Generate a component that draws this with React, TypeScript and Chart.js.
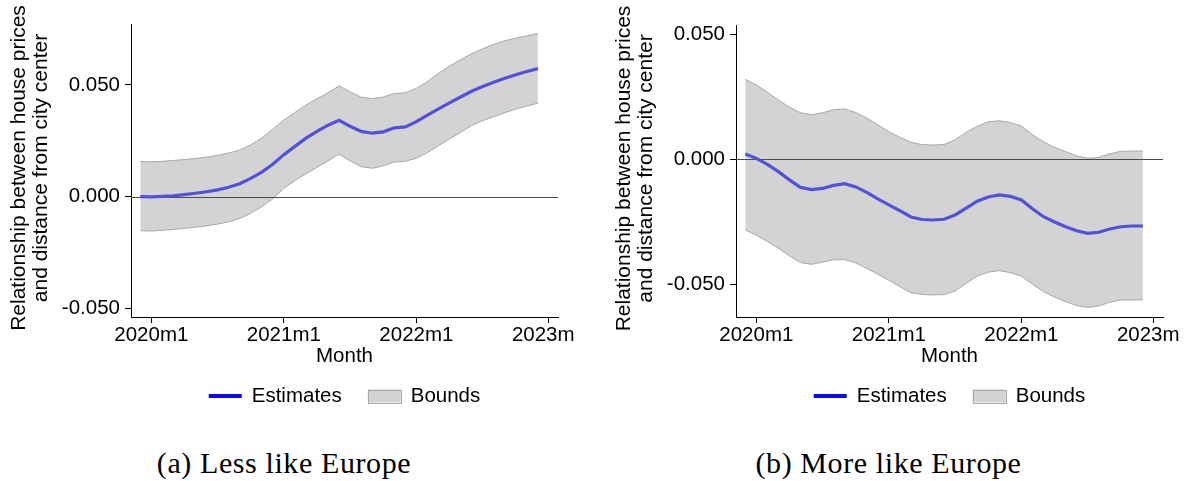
import React, { useEffect, useRef } from 'react';
import { Chart, registerables } from 'chart.js';

Chart.register(...registerables);

// ---------- data ----------
const months = [
  '2019m12',
  '2020m1', '2020m2', '2020m3', '2020m4', '2020m5', '2020m6', '2020m7', '2020m8', '2020m9', '2020m10', '2020m11', '2020m12',
  '2021m1', '2021m2', '2021m3', '2021m4', '2021m5', '2021m6', '2021m7', '2021m8', '2021m9', '2021m10', '2021m11', '2021m12',
  '2022m1', '2022m2', '2022m3', '2022m4', '2022m5', '2022m6', '2022m7', '2022m8', '2022m9', '2022m10', '2022m11', '2022m12',
];

const xTickLabels = ['2020m1', '2021m1', '2022m1', '2023m1'];
const yTickValues = [-0.05, 0, 0.05];
const yTitleLines = ['Relationship between house prices', 'and distance from city center'];
const xTitle = 'Month';
const legendLabels = ['Estimates', 'Bounds'];
const captions = ['(a) Less like Europe', '(b) More like Europe'];

const lessEstimate = [
  0.0000, -0.0001, 0.0001, 0.0004, 0.0009, 0.0015, 0.0022, 0.0030, 0.0042, 0.0058, 0.0082, 0.0110, 0.0145,
  0.0188, 0.0225, 0.0262, 0.0292, 0.0320, 0.0342, 0.0315, 0.0292, 0.0284, 0.0290, 0.0308, 0.0312,
  0.0336, 0.0365, 0.0393, 0.0420, 0.0446, 0.0472, 0.0493, 0.0512, 0.0530, 0.0546, 0.0560, 0.0573,
];
const lessUpper = [
  0.0157, 0.0156, 0.0158, 0.0162, 0.0166, 0.0171, 0.0177, 0.0185, 0.0195, 0.0209, 0.0232, 0.0262, 0.0302,
  0.0343, 0.0377, 0.0410, 0.0438, 0.0465, 0.0496, 0.0470, 0.0445, 0.0439, 0.0446, 0.0462, 0.0465,
  0.0485, 0.0515, 0.0552, 0.0585, 0.0613, 0.0640, 0.0662, 0.0682, 0.0698, 0.0710, 0.0720, 0.0730,
];
const lessLower = [
  -0.0153, -0.0154, -0.0151, -0.0147, -0.0142, -0.0137, -0.0131, -0.0123, -0.0113, -0.0098, -0.0075, -0.0045, -0.0010,
  0.0037, 0.0072, 0.0102, 0.0131, 0.0160, 0.0190, 0.0160, 0.0134, 0.0127, 0.0138, 0.0155, 0.0158,
  0.0172, 0.0197, 0.0228, 0.0258, 0.0288, 0.0318, 0.0340, 0.0358, 0.0376, 0.0392, 0.0406, 0.0418,
];

const moreEstimate = [
  0.0021, 0.0004, -0.0020, -0.0049, -0.0082, -0.0112, -0.0121, -0.0116, -0.0104, -0.0097, -0.0110, -0.0132, -0.0158,
  -0.0182, -0.0205, -0.0230, -0.0240, -0.0242, -0.0239, -0.0222, -0.0195, -0.0167, -0.0150, -0.0142, -0.0148,
  -0.0162, -0.0197, -0.0229, -0.0250, -0.0269, -0.0285, -0.0295, -0.0291, -0.0278, -0.0269, -0.0266, -0.0266,
];
const moreUpper = [
  0.0319, 0.0297, 0.0268, 0.0237, 0.0208, 0.0186, 0.0178, 0.0186, 0.0198, 0.0201, 0.0187, 0.0165, 0.0138,
  0.0110, 0.0088, 0.0068, 0.0059, 0.0057, 0.0059, 0.0078, 0.0108, 0.0132, 0.0150, 0.0154, 0.0147,
  0.0133, 0.0098, 0.0070, 0.0048, 0.0031, 0.0014, 0.0004, 0.0008, 0.0022, 0.0032, 0.0033, 0.0033,
];
const moreLower = [
  -0.0282, -0.0302, -0.0328, -0.0355, -0.0385, -0.0412, -0.0419, -0.0410, -0.0401, -0.0400, -0.0413, -0.0435, -0.0458,
  -0.0482, -0.0508, -0.0532, -0.0539, -0.0541, -0.0540, -0.0525, -0.0495, -0.0466, -0.0450, -0.0444, -0.0452,
  -0.0466, -0.0498, -0.0528, -0.0550, -0.0568, -0.0583, -0.0591, -0.0585, -0.0570, -0.0561, -0.0561, -0.0561,
];

// ---------- helpers ----------
const monthIndex = (label: string) => {
  const [y, m] = label.split('m').map(Number);
  return (y - 2020) * 12 + (m - 1);
};
const xTickValues = xTickLabels.map(monthIndex);

const FONT = "'Liberation Sans', Arial, Helvetica, sans-serif";
const EST_COLOR = '#5151d9';
const LEGEND_LINE = '#0a0aff';
const BAND_FILL = '#d3d3d3';
const BAND_EDGE = '#a8a8a8';

const decorPlugin = {
  id: 'decor',
  afterDatasetDraw(chart: any, args: any) {
    if (args.index !== 1) return;
    const { ctx, chartArea } = chart;
    const y = Math.round(chart.scales.y.getPixelForValue(0)) + 0.5;
    ctx.save();
    ctx.strokeStyle = '#4a4a4a';
    ctx.lineWidth = 1;
    ctx.beginPath();
    ctx.moveTo(chartArea.left, y);
    ctx.lineTo(chartArea.right, y);
    ctx.stroke();
    ctx.restore();
  },
  afterDraw(chart: any) {
    const { ctx, chartArea } = chart;
    ctx.save();
    // y-axis title (two lines, rotated)
    ctx.fillStyle = '#000';
    ctx.font = `21px ${FONT}`;
    ctx.textAlign = 'center';
    ctx.textBaseline = 'middle';
    const cy = (chartArea.top + chartArea.bottom) / 2 - 2.5;
    ctx.translate(19.5, cy);
    ctx.rotate(-Math.PI / 2);
    yTitleLines.forEach((line, i) => ctx.fillText(line, 0, i * 21.5));
    ctx.restore();

    // legend
    ctx.save();
    ctx.font = `20.5px ${FONT}`;
    ctx.textBaseline = 'middle';
    ctx.textAlign = 'left';
    const w1 = ctx.measureText(legendLabels[0]).width;
    const w2 = ctx.measureText(legendLabels[1]).width;
    const sw = 33, gap = 10, itemGap = 26;
    const total = sw + gap + w1 + itemGap + sw + gap + w2;
    const cx = (chartArea.left + chartArea.right) / 2;
    const ly = 396;
    let x = cx - total / 2;
    ctx.strokeStyle = LEGEND_LINE;
    ctx.lineWidth = 4;
    ctx.beginPath();
    ctx.moveTo(x, ly);
    ctx.lineTo(x + sw, ly);
    ctx.stroke();
    ctx.fillStyle = '#000';
    ctx.fillText(legendLabels[0], x + sw + gap, ly);
    x += sw + gap + w1 + itemGap;
    ctx.fillStyle = BAND_FILL;
    ctx.fillRect(x, ly - 6.5, sw, 13);
    ctx.strokeStyle = BAND_EDGE;
    ctx.lineWidth = 1;
    ctx.strokeRect(Math.round(x) + 0.5, Math.round(ly - 6.5) + 0.5, sw, 13);
    ctx.fillStyle = '#000';
    ctx.fillText(legendLabels[1], x + sw + gap, ly);
    ctx.restore();
  },
};

type PanelProps = {
  estimate: number[];
  upper: number[];
  lower: number[];
  yMin: number;
  yMax: number;
  top: number;
};

function Panel({ estimate, upper, lower, yMin, yMax, top }: PanelProps) {
  const ref = useRef<HTMLCanvasElement>(null);
  useEffect(() => {
    if (!ref.current) return;
    const toPts = (vals: number[]) => months.map((m, i) => ({ x: monthIndex(m), y: vals[i] }));
    const chart = new Chart(ref.current, {
      type: 'line',
      data: {
        datasets: [
          {
            label: legendLabels[0],
            data: toPts(estimate),
            borderColor: EST_COLOR,
            borderWidth: 3.2,
            pointRadius: 0,
            fill: false,
            tension: 0,
          },
          {
            label: legendLabels[1],
            data: toPts(upper),
            borderColor: BAND_EDGE,
            borderWidth: 1,
            backgroundColor: BAND_FILL,
            pointRadius: 0,
            fill: '+1',
            tension: 0,
          },
          {
            label: 'lower',
            data: toPts(lower),
            borderColor: BAND_EDGE,
            borderWidth: 1,
            pointRadius: 0,
            fill: false,
            tension: 0,
          },
        ],
      },
      options: {
        responsive: false,
        animation: false,
        events: [],
        layout: { padding: { left: 0, top, right: 40, bottom: 51.7 } },
        plugins: {
          legend: { display: false },
          tooltip: { enabled: false },
          filler: { drawTime: 'beforeDatasetsDraw' },
        },
        scales: {
          x: {
            type: 'linear',
            min: -1.84,
            max: 36.82,
            afterBuildTicks: (s: any) => {
              s.ticks = xTickValues.map((v) => ({ value: v }));
            },
            afterFit: (s: any) => {
              s.height = 51.3;
            },
            ticks: {
              autoSkip: false,
              maxRotation: 0,
              padding: 0,
              color: '#000',
              font: { family: FONT, size: 20.5 },
              callback: (v: any) => xTickLabels[xTickValues.indexOf(Number(v))] ?? '',
            },
            grid: { display: true, drawOnChartArea: false, drawTicks: true, tickLength: 6, color: '#000', tickColor: '#000' },
            border: { display: true, color: '#000', width: 1 },
            title: { display: true, text: xTitle, color: '#000', font: { family: FONT, size: 20.5, lineHeight: 1.2 }, padding: 0 },
          },
          y: {
            type: 'linear',
            min: yMin,
            max: yMax,
            afterBuildTicks: (s: any) => {
              s.ticks = yTickValues.map((v) => ({ value: v }));
            },
            afterFit: (s: any) => {
              s.width = 131;
            },
            ticks: {
              padding: 5,
              color: '#000',
              font: { family: FONT, size: 20.5 },
              callback: (v: any) => Number(v).toFixed(3),
            },
            grid: { display: true, drawOnChartArea: false, drawTicks: true, tickLength: 6, color: '#000', tickColor: '#000' },
            border: { display: true, color: '#000', width: 1 },
          },
        },
      },
      plugins: [decorPlugin],
    } as any);
    return () => chart.destroy();
  }, []);
  return <canvas ref={ref} width={598} height={420} style={{ display: 'block' }} />;
}

export default function App() {
  const captionStyle: React.CSSProperties = {
    position: 'absolute',
    top: 448,
    width: 400,
    textAlign: 'center',
    fontFamily: "'Liberation Serif', 'Times New Roman', serif",
    fontSize: 30,
    lineHeight: '30px',
    letterSpacing: '0.6px',
    color: '#000',
    whiteSpace: 'nowrap',
  };
  return (
    <div style={{ position: 'fixed', left: 0, top: 0, width: 1185, height: 481, overflow: 'hidden', background: '#fff' }}>
      <div style={{ position: 'absolute', left: 0, top: 0, width: 575, height: 420, overflow: 'hidden' }}>
        <Panel estimate={lessEstimate} upper={lessUpper} lower={lessLower} yMin={-0.0539} yMax={0.0773} top={24} />
      </div>
      <div style={{ position: 'absolute', left: 605, top: 0, width: 576, height: 420, overflow: 'hidden' }}>
        <Panel estimate={moreEstimate} upper={moreUpper} lower={moreLower} yMin={-0.0629} yMax={0.0536} top={25} />
      </div>
      <div style={{ ...captionStyle, left: 84 }}>{captions[0]}</div>
      <div style={{ ...captionStyle, left: 688.5 }}>{captions[1]}</div>
    </div>
  );
}
